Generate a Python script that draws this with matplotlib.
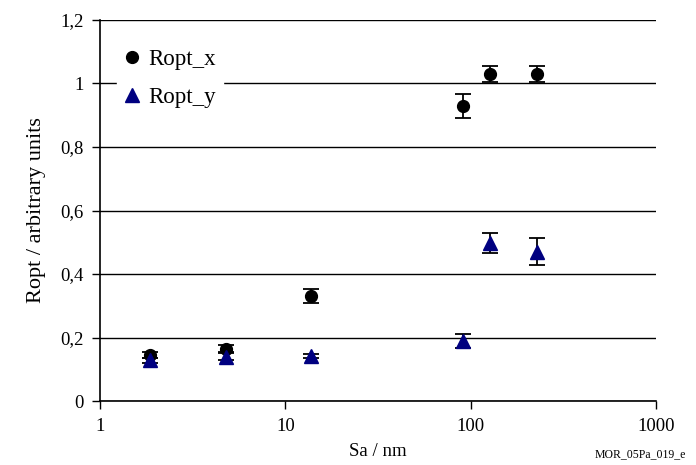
import numpy as np
import matplotlib
matplotlib.use("Agg")
import matplotlib.pyplot as plt
from matplotlib.ticker import FuncFormatter, FixedLocator, NullLocator

plt.rcParams['font.family'] = ['Liberation Serif', 'DejaVu Serif']

# Sa / nm
sa = [1.85, 4.8, 13.8, 91, 127, 228]
ropt_x = [0.145, 0.165, 0.33, 0.93, 1.03, 1.03]
ropt_x_err = [0.008, 0.012, 0.022, 0.038, 0.025, 0.024]
ropt_y = [0.128, 0.14, 0.143, 0.19, 0.497, 0.47]
ropt_y_err = [0.008, 0.01, 0.006, 0.022, 0.031, 0.042]

fig = plt.figure(figsize=(6.96, 4.65), dpi=100)
ax = fig.add_axes([0.1437, 0.1376, 0.7988, 0.8194])

ax.errorbar(sa, ropt_x, yerr=ropt_x_err, fmt='o', color='black', ecolor='black',
            markersize=8.5, capsize=5.5, elinewidth=1.3, capthick=1.3, label='Ropt_x', zorder=3)
ax.errorbar(sa, ropt_y, yerr=ropt_y_err, fmt='^', color='#000080', ecolor='black',
            markersize=9.5, capsize=5.5, elinewidth=1.3, capthick=1.3, label='Ropt_y', zorder=4)

ax.set_xscale('log')
ax.set_xlim(1, 1000)
ax.set_ylim(0, 1.2)
ax.xaxis.set_major_locator(FixedLocator([1, 10, 100, 1000]))
ax.xaxis.set_minor_locator(NullLocator())
ax.xaxis.set_major_formatter(FuncFormatter(lambda v, p: '%g' % v))
ax.set_yticks(np.arange(0, 1.21, 0.2))
ax.yaxis.set_major_formatter(FuncFormatter(lambda v, p: ('%g' % round(v, 1)).replace('.', ',')))

ax.grid(axis='y', color='black', linewidth=1.0)
ax.set_axisbelow(True)
for s in ['top', 'right']:
    ax.spines[s].set_visible(False)
ax.spines['left'].set_linewidth(1.2)
ax.spines['bottom'].set_linewidth(1.2)
ax.tick_params(direction='out', length=6, width=1, labelsize=13.5, pad=6)

ax.set_xlabel('Sa / nm', fontsize=13.5, labelpad=6)
ax.set_ylabel('Ropt / arbitrary units', fontsize=16, labelpad=10)

handles, labels = ax.get_legend_handles_labels()
handles = [h[0] for h in handles]
leg = ax.legend(handles, labels, loc='upper left', bbox_to_anchor=(0.031, 0.942),
                frameon=True, fontsize=16.5, handletextpad=0.35, labelspacing=0.75,
                handlelength=0.7, borderpad=0.3, borderaxespad=0.0)
leg.get_frame().set_edgecolor('white')
leg.get_frame().set_facecolor('white')
leg.get_frame().set_alpha(1)
leg.set_zorder(5)

fig.text(0.92, 0.01, 'MOR_05Pa_019_e', fontsize=8.5, ha='center', va='bottom')

fig.savefig('out.png', dpi=100)
